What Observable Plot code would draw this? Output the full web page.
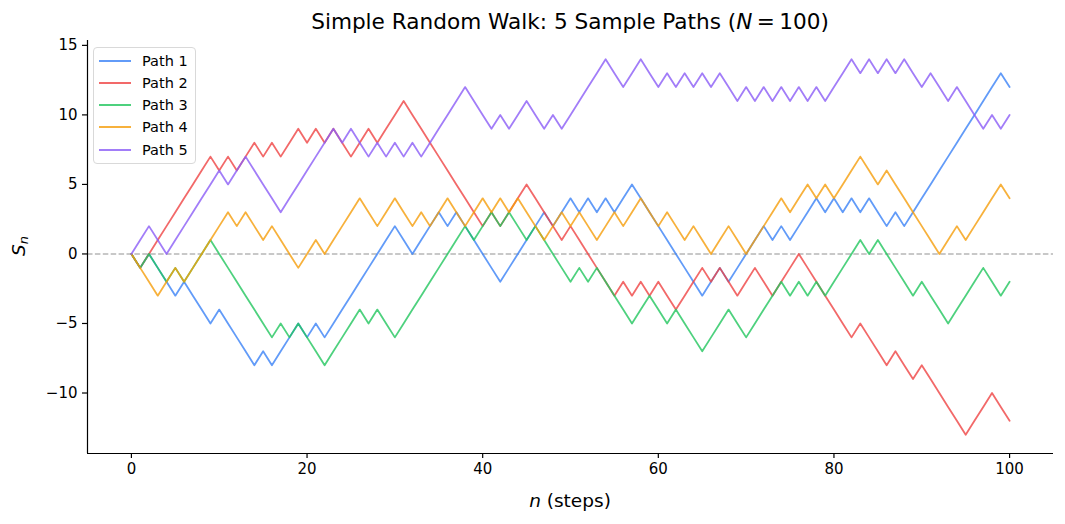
<!DOCTYPE html>
<html>
<head>
<meta charset="utf-8">
<script src="https://cdn.jsdelivr.net/npm/d3@7"></script>
<script src="https://cdn.jsdelivr.net/npm/@observablehq/plot@0.6"></script>
<style>
  html, body { margin: 0; padding: 0; background: #fff; }
  #wrap { position: relative; width: 1065px; height: 524px; font-family: "DejaVu Sans", sans-serif; color: #000; }
  .title { position: absolute; left: 87px; width: 966px; top: 9px; text-align: center; font-size: 21.6px; line-height: 26px; white-space: nowrap; }
  .xlabel { position: absolute; left: 87px; width: 966px; top: 489px; text-align: center; font-size: 18.5px; line-height: 24px; }
  .ylabel { position: absolute; left: 21px; top: 246px; transform: translate(-50%, -50%) rotate(-90deg); font-size: 18.5px; line-height: 24px; white-space: nowrap; }
  .legend { position: absolute; left: 93px; top: 47px; width: 103px; height: 117px; border: 1px solid #d9d9d9; border-radius: 4px; background: rgba(255,255,255,0.8); box-sizing: border-box; }
  .legend .row { position: absolute; left: 0; height: 20px; width: 100%; font-size: 14.5px; line-height: 20px; white-space: nowrap; }
  .legend .sw { position: absolute; left: 5px; top: 9px; width: 32px; height: 0; border-top: 2px solid; }
  .legend .lb { position: absolute; left: 48px; top: 0; }
</style>
</head>
<body>
<div id="wrap"></div>
<script>
// ---- data ----
const pathNames = ["Path 1", "Path 2", "Path 3", "Path 4", "Path 5"];
const pathColors = ["#3b82f6", "#ef4444", "#22c55e", "#f59e0b", "#8b5cf6"];

const path1 = [0,-1,0,-1,-2,-3,-2,-3,-4,-5,
  -4,-5,-6,-7,-8,-7,-8,-7,-6,-5,
  -6,-5,-6,-5,-4,-3,-2,-1,0,1,
  2,1,0,1,2,3,2,3,2,1,
  0,-1,-2,-1,0,1,2,3,2,3,
  4,3,4,3,4,3,4,5,4,3,
  2,1,0,-1,-2,-3,-2,-1,-2,-1,
  0,1,2,1,2,1,2,3,4,3,
  4,3,4,3,4,3,2,3,2,3,
  4,5,6,7,8,9,10,11,12,13,
  12];
const path2 = [0,-1,0,1,2,3,4,5,6,7,
  6,7,6,7,8,7,8,7,8,9,
  8,9,8,9,8,7,8,9,8,9,
  10,11,10,9,8,7,6,5,4,3,
  2,3,2,3,4,5,4,3,2,1,
  2,1,0,-1,-2,-3,-2,-3,-2,-3,
  -2,-3,-4,-3,-2,-1,-2,-1,-2,-3,
  -2,-1,-2,-3,-2,-1,0,-1,-2,-3,
  -4,-5,-6,-5,-6,-7,-8,-7,-8,-9,
  -8,-9,-10,-11,-12,-13,-12,-11,-10,-11,
  -12];
const path3 = [0,-1,0,-1,-2,-1,-2,-1,0,1,
  0,-1,-2,-3,-4,-5,-6,-5,-6,-5,
  -6,-7,-8,-7,-6,-5,-4,-5,-4,-5,
  -6,-5,-4,-3,-2,-1,0,1,2,1,
  2,3,2,3,2,1,2,1,0,-1,
  -2,-1,-2,-1,-2,-3,-4,-5,-4,-3,
  -4,-5,-4,-5,-6,-7,-6,-5,-4,-5,
  -6,-5,-4,-3,-2,-3,-2,-3,-2,-3,
  -2,-1,0,1,0,1,0,-1,-2,-3,
  -2,-3,-4,-5,-4,-3,-2,-1,-2,-3,
  -2];
const path4 = [0,-1,-2,-3,-2,-1,-2,-1,0,1,
  2,3,2,3,2,1,2,1,0,-1,
  0,1,0,1,2,3,4,3,2,3,
  4,3,2,3,2,3,4,3,2,3,
  4,3,4,3,4,3,2,1,2,3,
  2,3,2,1,2,3,2,3,4,3,
  2,3,2,1,2,1,0,1,2,1,
  0,1,2,3,4,3,4,5,4,5,
  4,5,6,7,6,5,6,5,4,3,
  2,1,0,1,2,1,2,3,4,5,
  4];
const path5 = [0,1,2,1,0,1,2,3,4,5,
  6,5,6,7,6,5,4,3,4,5,
  6,7,8,9,8,9,8,7,8,7,
  8,7,8,7,8,9,10,11,12,11,
  10,9,10,9,10,11,10,9,10,9,
  10,11,12,13,14,13,12,13,14,13,
  12,13,12,13,12,13,12,13,12,11,
  12,11,12,11,12,11,12,11,12,11,
  12,13,14,13,14,13,14,13,14,13,
  12,13,12,11,12,11,10,9,10,9,
  10];

const xTicks = [0, 20, 40, 60, 80, 100];
const yTicks = [-10, -5, 0, 5, 10, 15];

// ---- build ----
const allPaths = [path1, path2, path3, path4, path5];
const rows = allPaths.flatMap((vals, k) => vals.map((v, i) => ({ n: i, s: v, path: pathNames[k] })));

const minus = d => (d < 0 ? "\u2212" + Math.abs(d) : String(d));
const xDom = [-5, 105];
const yDom = [-14.35, 15.35];

const chart = Plot.plot({
  width: 1065,
  height: 524,
  marginLeft: 87,
  marginRight: 12,
  marginTop: 40,
  marginBottom: 71,
  style: { fontFamily: "DejaVu Sans, sans-serif", fontSize: "15px", background: "transparent", color: "#000" },
  x: { domain: xDom, label: null },
  y: { domain: yDom, label: null },
  color: { domain: pathNames, range: pathColors },
  marks: [
    Plot.ruleY([0], { stroke: "#808080", strokeWidth: 1.1, strokeDasharray: "5.5,2.4", strokeOpacity: 0.85 }),
    Plot.line(rows, { x: "n", y: "s", z: "path", stroke: "path", strokeWidth: 1.8, strokeOpacity: 0.8 }),
    Plot.ruleX([xDom[0]], { stroke: "#000", strokeWidth: 1.2 }),
    Plot.ruleY([yDom[0]], { stroke: "#000", strokeWidth: 1.2 }),
    Plot.axisX({ ticks: xTicks, tickSize: 5, tickPadding: 5, tickFormat: minus, fontSize: 15, label: null, strokeWidth: 1.2 }),
    Plot.axisY({ ticks: yTicks, tickSize: 5, tickPadding: 5, tickFormat: minus, fontSize: 15, label: null, strokeWidth: 1.2 })
  ]
});

const wrap = document.getElementById("wrap");
wrap.appendChild(chart);
chart.style.position = "absolute";
chart.style.left = "0";
chart.style.top = "0";

const title = document.createElement("div");
title.className = "title";
title.innerHTML = "Simple Random Walk: 5 Sample Paths (<i>N</i>&#8201;=&#8201;100)";
wrap.appendChild(title);

const xl = document.createElement("div");
xl.className = "xlabel";
xl.innerHTML = "<i>n</i> (steps)";
wrap.appendChild(xl);

const yl = document.createElement("div");
yl.className = "ylabel";
yl.innerHTML = "<i>S</i><sub style=\"font-size:13px;font-style:italic;vertical-align:-3px\">n</sub>";
wrap.appendChild(yl);

const leg = document.createElement("div");
leg.className = "legend";
pathNames.forEach((name, i) => {
  const r = document.createElement("div");
  r.className = "row";
  r.style.top = (2.5 + i * 22.3) + "px";
  const sw = document.createElement("span");
  sw.className = "sw";
  sw.style.borderColor = pathColors[i];
  sw.style.opacity = 0.8;
  const lb = document.createElement("span");
  lb.className = "lb";
  lb.textContent = name;
  r.appendChild(sw); r.appendChild(lb);
  leg.appendChild(r);
});
wrap.appendChild(leg);
</script>
</body>
</html>
